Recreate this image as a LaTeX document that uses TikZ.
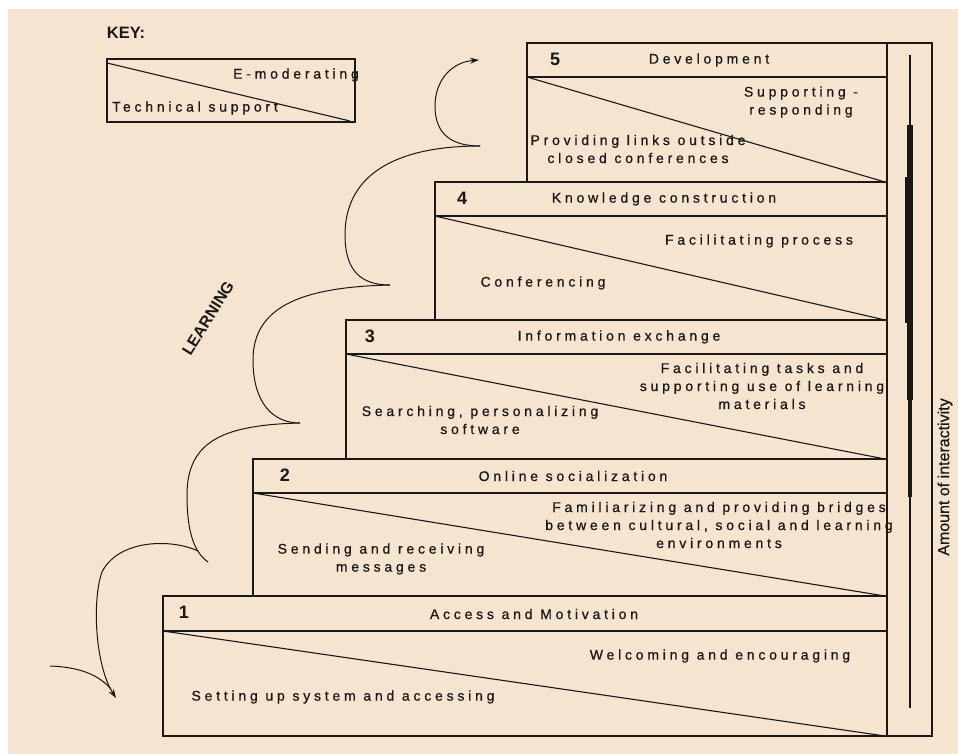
\documentclass[tikz,border=0pt]{standalone}
\usepackage{fontspec}
\setmainfont{Liberation Sans}
\newfontfamily\stagefont[LetterSpace=27,FakeBold=0.7]{Liberation Sans}
\newfontfamily\sidefont[FakeBold=0.5]{Liberation Sans}
\usetikzlibrary{arrows.meta}
\definecolor{paper}{RGB}{245,228,208}
\definecolor{ink}{RGB}{26,24,22}

\begin{document}
\begin{tikzpicture}[x=1pt,y=-1pt,
  frame/.style={draw=ink,line width=1.4pt},
  diag/.style={draw=ink,line width=1.1pt},
  txt/.style={inner sep=0pt,align=center,text=ink,font=\stagefont\fontsize{14}{18}\selectfont},
  num/.style={inner sep=0pt,text=ink,font=\bfseries\fontsize{18}{18}\selectfont},
  flow/.style={draw=ink,line width=1pt},
  tip/.style={-{Stealth[length=9pt,width=6pt]}}]

% canvas
\path[use as bounding box] (0,0) rectangle (958,754);
\fill[white] (0,0) rectangle (958,754);
\fill[paper] (8,9) rectangle (958,754);

% key
\node[inner sep=0pt,text=ink,font=\bfseries\fontsize{16.5}{16.5}\selectfont] (keytitle) at (126,33) {KEY:};
\draw[frame] (107,59) rectangle (355,122);
\draw[diag] (107,63) -- (350,121);
\node[txt,anchor=east] (keyemod) at (359,75) {E-moderating};
\node[txt,anchor=west] (keytech) at (112,108) {Technical support};

% stage boxes: outer frame, header rule, diagonal split
\foreach \l/\t/\h/\b in {527/43/77/182, 435/182/216/320, 346/320/354/459, 253/459/493/596, 163/596/631/736}{
  \draw[frame] (\l,\t) rectangle (887,\b);
  \draw[frame] (\l,\h) -- (887,\h);
  \draw[diag] (\l,\h) -- (885,\b);
}

% stage 5
\node[num] (n5) at (555,59) {5};
\node[txt] (h5) at (709,60) {Development};
\node[txt] (e5) at (801,102) {Supporting -\\responding};
\node[txt] (t5) at (638,149) {Providing links outside\\closed conferences};

% stage 4
\node[num] (n4) at (462,198) {4};
\node[txt] (h4) at (664,199) {Knowledge construction};
\node[txt] (e4) at (759,241) {Facilitating process};
\node[txt] (t4) at (543,283) {Conferencing};

% stage 3
\node[num] (n3) at (370,336) {3};
\node[txt] (h3) at (619,337) {Information exchange};
\node[txt] (e3) at (762,386) {Facilitating tasks and\\supporting use of learning\\materials};
\node[txt] (t3) at (480,420) {Searching, personalizing\\software};

% stage 2
\node[num] (n2) at (285,475) {2};
\node[txt] (h2) at (573,476) {Online socialization};
\node[txt] (e2) at (719,525) {Familiarizing and providing bridges\\between cultural, social and learning\\environments};
\node[txt] (t2) at (381,559) {Sending and receiving\\messages};

% stage 1
\node[num] (n1) at (184,612) {1};
\node[txt] (h1) at (534,614) {Access and Motivation};
\node[txt] (e1) at (720,656) {Welcoming and encouraging};
\node[txt] (t1) at (343,697) {Setting up system and accessing};

% interactivity column
\draw[frame] (887,43) rectangle (932,736);
\draw[ink,line width=1.5pt] (910,55) -- (910,708);
\draw[ink,line width=3.5pt] (910,125) -- (910,497);
\fill[ink] (907.3,125) rectangle (913.3,400);
\fill[ink] (905.3,177) rectangle (910,323);
\node[inner sep=0pt,text=ink,rotate=90,font=\sidefont\fontsize{16}{16}\selectfont] (amount) at (945,477) {Amount of interactivity};

% learning path
\coordinate (c0) at (480,146);
\coordinate (c1) at (390,285);
\coordinate (c2) at (300,423);
\coordinate (c3) at (208,562);
\coordinate (topend) at (479,60);
\coordinate (lowend) at (116,698);
\draw[flow,tip] (c0) .. controls (445,146) and (435,128) .. (435,106) .. controls (435,80) and (452,62) .. (topend);
\draw[flow] (c0) .. controls (400,146) and (345,172) .. (345,235) .. controls (345,272) and (362,285) .. (c1);
\draw[flow] (c1) .. controls (305,287) and (253,305) .. (253,360) .. controls (253,402) and (272,423) .. (c2);
\draw[flow] (c2) .. controls (225,425) and (187,440) .. (187,495) .. controls (187,532) and (194,552) .. (c3);
\draw[flow,tip] (198,551) .. controls (170,538) and (118,540) .. (102,572) .. controls (92,600) and (95,665) .. (lowend);
\draw[flow] (50,666) .. controls (78,667) and (98,674) .. (111,689);
\node[inner sep=0pt,text=ink,rotate=58,font=\bfseries\fontsize{16}{16}\selectfont] (learning) at (208,318) {LEARNING};

\end{tikzpicture}
\end{document}
